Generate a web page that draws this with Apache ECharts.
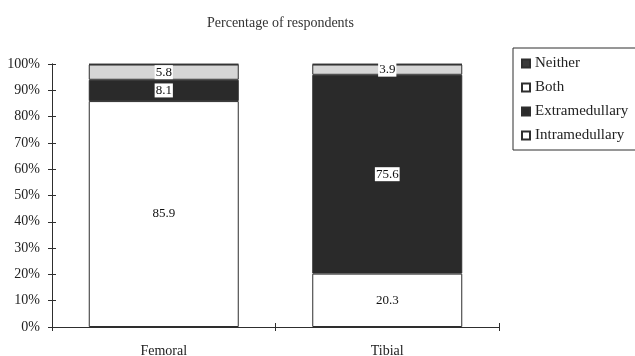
<!DOCTYPE html>
<html>
<head>
<meta charset="utf-8">
<script src="https://cdn.jsdelivr.net/npm/echarts@6/dist/echarts.min.js"></script>
<style>
  html, body { margin: 0; padding: 0; background: #fff; }
  #chart { width: 635px; height: 356px; }
</style>
</head>
<body>
<div id="chart"></div>
<script>
// Fixation method preference, percentage of respondents per procedure
const categories = ['Femoral', 'Tibial'];
const intramedullary = [85.9, 20.3];
const extramedullary = [8.1, 75.6];
const both = [5.8, 3.9];
const neither = [0.2, 0.2];
const legendOrder = ['Neither', 'Both', 'Extramedullary', 'Intramedullary'];

const SERIF = '"Liberation Serif", "DejaVu Serif", serif';
const INK = '#2e2e2e';
const TICK = 4;

const boxedLabel = {
  show: true,
  position: 'inside',
  color: '#111',
  fontFamily: SERIF,
  fontSize: 13,
  backgroundColor: '#fff',
  padding: [1, 1, 0, 1]
};

function segment(name, values, fill, label) {
  return {
    name: name,
    type: 'bar',
    stack: 'total',
    barWidth: 150,
    data: values,
    itemStyle: { color: fill, borderColor: INK, borderWidth: 1 },
    label: label || { show: false },
    emphasis: { disabled: true }
  };
}

const chart = echarts.init(document.getElementById('chart'), null, { renderer: 'canvas' });

// Grid 0 holds the bars, labels and outward ticks; grid 1 sits exactly on
// top of it and draws the inward half of each tick (negative tick length),
// so the tick marks cross the axis lines.
const gridBox = { left: 52, right: 136, top: 64, bottom: 29, outerBoundsMode: 'none', containLabel: false };

function valueAxis(gridIndex, tickLen) {
  return {
    type: 'value',
    gridIndex: gridIndex,
    min: 0,
    max: 100,
    interval: 10,
    splitLine: { show: false },
    axisLine: { show: true, lineStyle: { color: INK, width: 1 } },
    axisTick: { show: true, length: tickLen, lineStyle: { color: INK } },
    axisLabel: {
      fontFamily: SERIF, fontSize: 14, margin: 12, formatter: '{value}%',
      color: gridIndex ? 'rgba(0,0,0,0)' : '#222'
    }
  };
}

function categoryAxis(gridIndex, tickLen) {
  return {
    type: 'category',
    gridIndex: gridIndex,
    data: categories,
    axisLine: { show: true, onZero: false, lineStyle: { color: INK, width: 1 } },
    axisTick: { show: true, length: tickLen, lineStyle: { color: INK } },
    axisLabel: {
      fontFamily: SERIF, fontSize: 14, margin: 17,
      color: gridIndex ? 'rgba(0,0,0,0)' : '#222'
    }
  };
}

chart.setOption({
  animation: false,
  backgroundColor: '#fff',
  title: {
    text: 'Percentage of respondents',
    left: 202,
    top: 11,
    textStyle: { fontFamily: SERIF, fontSize: 14, fontWeight: 'normal', color: '#333' }
  },
  legend: {
    orient: 'vertical',
    left: 513,
    top: 48,
    padding: [8, 8, 7, 8],
    itemGap: 9,
    itemWidth: 8,
    itemHeight: 8,
    icon: 'rect',
    borderColor: INK,
    borderWidth: 1,
    textStyle: { fontFamily: SERIF, fontSize: 15, color: '#222', lineHeight: 15 },
    data: legendOrder.map(function (name) {
      return name === 'Both' ? { name: name, itemStyle: { color: '#fff' } } : { name: name };
    })
  },
  grid: [Object.assign({}, gridBox), Object.assign({}, gridBox)],
  xAxis: [categoryAxis(0, TICK), categoryAxis(1, -TICK)],
  yAxis: [valueAxis(0, TICK), valueAxis(1, -TICK)],
  series: [
    segment('Intramedullary', intramedullary, '#ffffff',
      Object.assign({}, boxedLabel, { backgroundColor: 'transparent' })),
    segment('Extramedullary', extramedullary, '#2a2a2a', boxedLabel),
    segment('Both', both, '#d6d6d6', boxedLabel),
    segment('Neither', neither, '#3a3a3a'),
    {
      type: 'bar',
      xAxisIndex: 1,
      yAxisIndex: 1,
      data: [],
      silent: true
    }
  ]
});
</script>
</body>
</html>
